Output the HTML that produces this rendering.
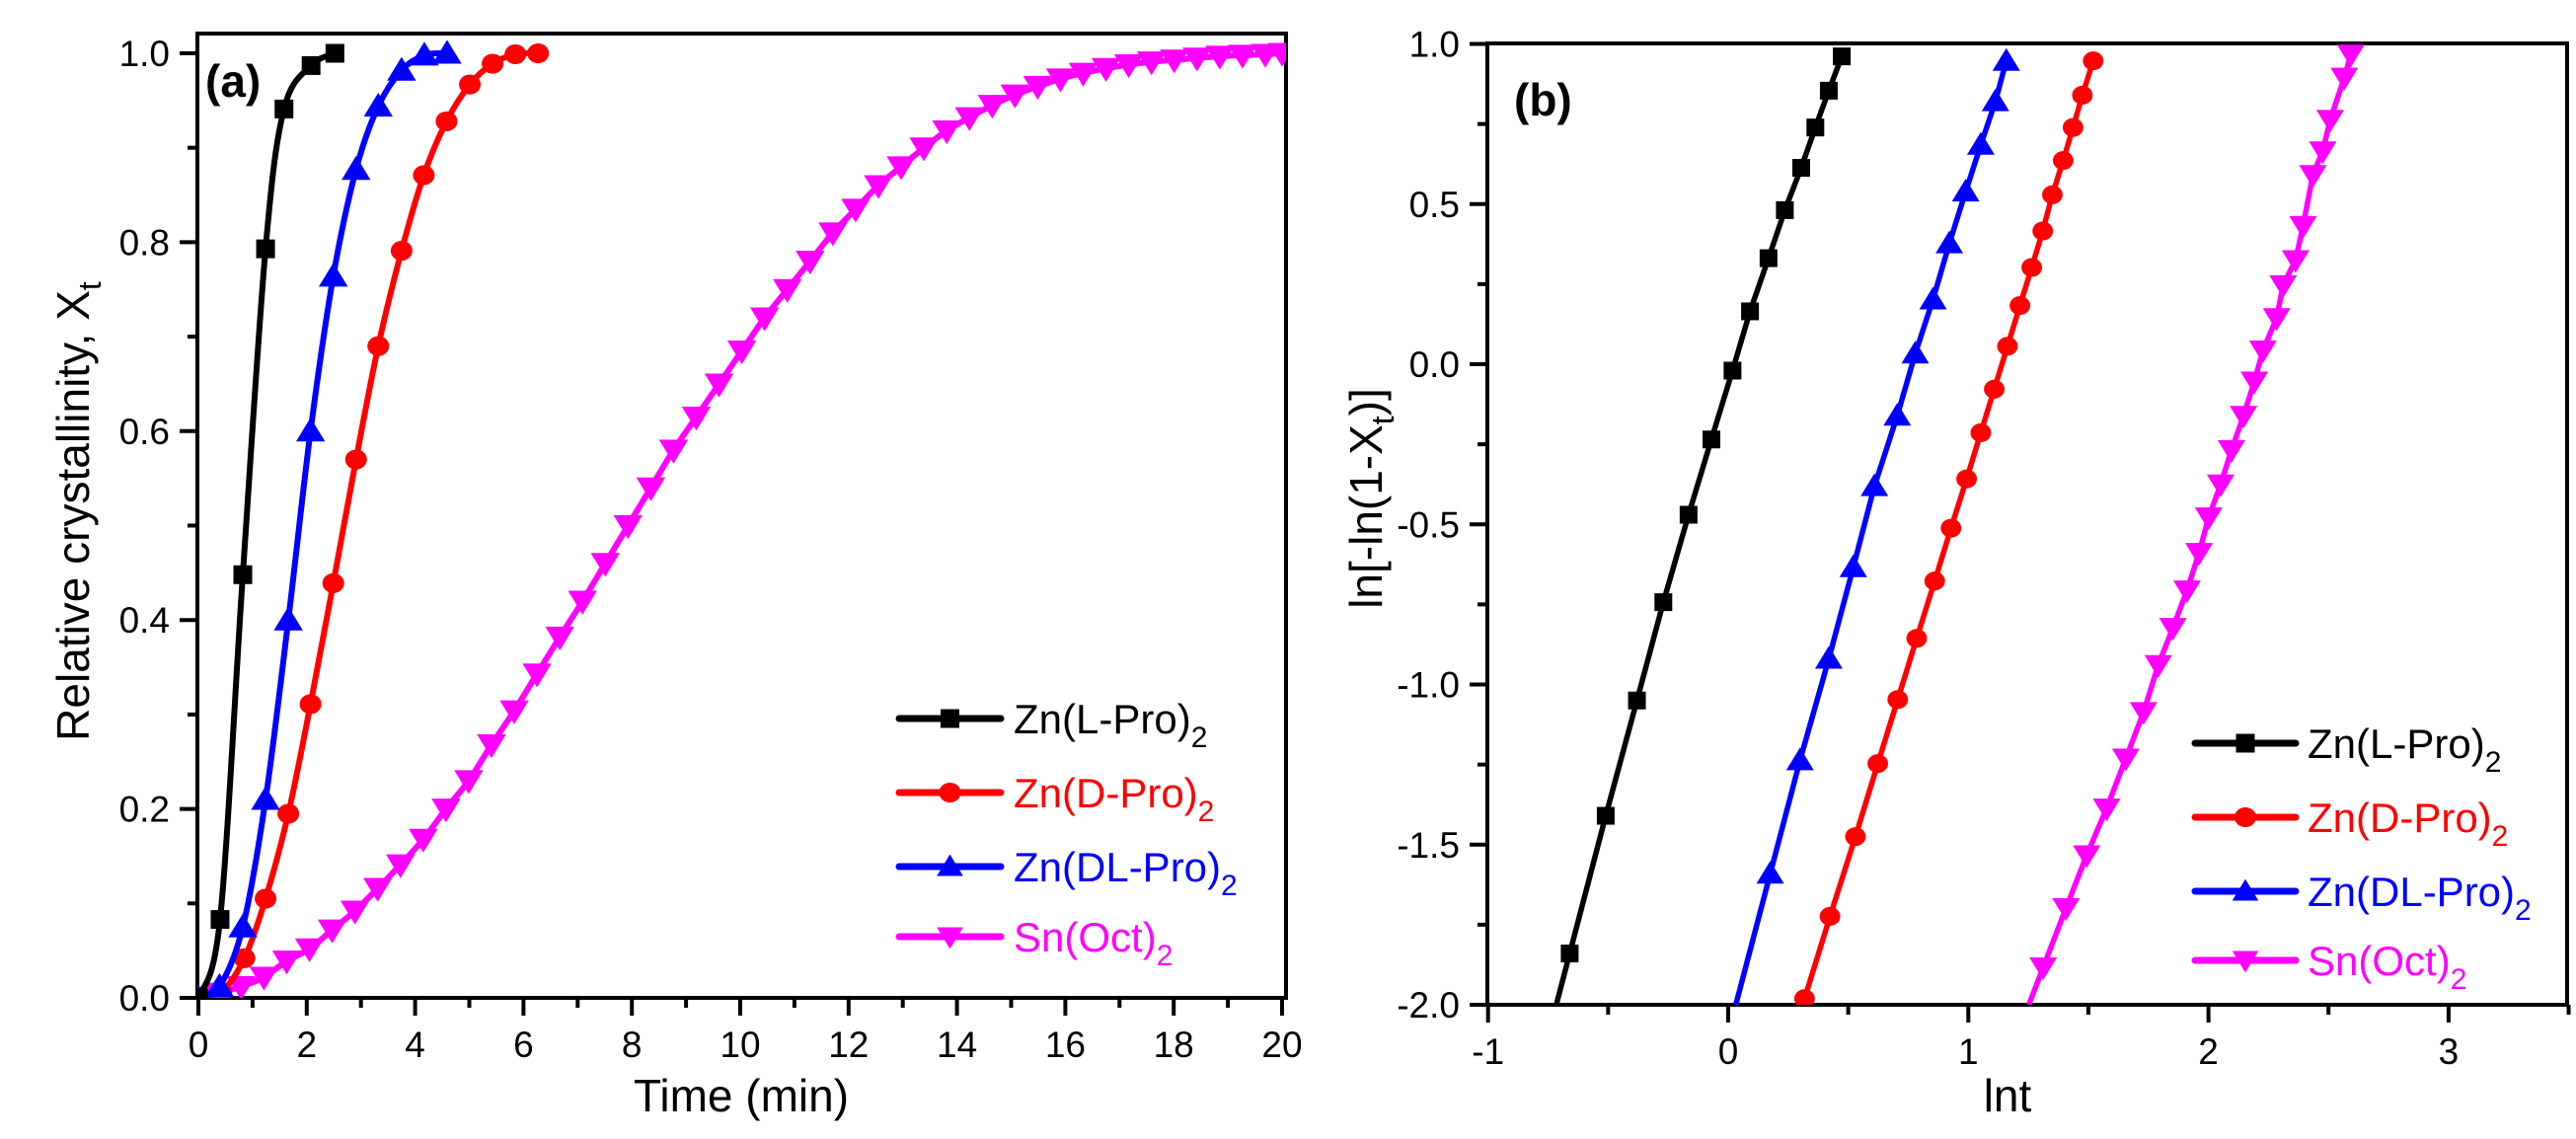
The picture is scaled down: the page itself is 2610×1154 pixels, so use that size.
<!DOCTYPE html>
<html><head><meta charset="utf-8"><style>
html,body{margin:0;padding:0;background:#fff;width:2610px;height:1154px;overflow:hidden;}
svg{display:block;font-family:"Liberation Sans",Arial,sans-serif;}
</style></head><body>
<svg id="chart" width="2610" height="1154" viewBox="0 0 2610 1154" xmlns="http://www.w3.org/2000/svg">
<defs>
<clipPath id="clipA"><rect x="200" y="34" width="1103" height="977"/></clipPath>
<clipPath id="clipB"><rect x="1507" y="44" width="1094" height="974"/></clipPath>
</defs>
<g id="panelA"></g>
<g id="panelB"></g>
<text x="208" y="98" font-size="46" font-weight="bold">(a)</text>
<text x="1534" y="117" font-size="46" font-weight="bold">(b)</text>
<text x="751" y="1126" font-size="46" text-anchor="middle">Time (min)</text>
<text x="2034" y="1126" font-size="46" text-anchor="middle">lnt</text>
<text transform="translate(90,518) rotate(-90)" font-size="46" text-anchor="middle">Relative crystallinity, X<tspan font-size="32" dy="12">t</tspan></text>
<text transform="translate(1400,505) rotate(-90)" font-size="46" text-anchor="middle">ln[-ln(1-X<tspan font-size="32" dy="12">t</tspan><tspan dy="-12">)]</tspan></text>
</svg>
<script>
// ---------- Panel (a) data ----------
const aBlackT = [0, 0.40, 0.82, 1.24, 1.58, 2.08, 2.52];
const aBlackX = [0, 0.083, 0.448, 0.793, 0.941, 0.987, 1.0];
const aBlueT = [0, 0.39, 0.82, 1.24, 1.66, 2.07, 2.49, 2.91, 3.32, 3.75, 4.17, 4.59];
const aBlueX = [0, 0.012, 0.075, 0.21, 0.40, 0.60, 0.764, 0.877, 0.944, 0.982, 0.998, 1.0];
const aRedT = [0, 0.42, 0.85, 1.24, 1.66, 2.07, 2.49, 2.91, 3.32, 3.75, 4.16, 4.58, 5.01, 5.43, 5.85, 6.27];
const aRedX = [0, 0.006, 0.042, 0.105, 0.195, 0.311, 0.439, 0.57, 0.69, 0.791, 0.871, 0.928, 0.967, 0.989, 0.999, 1.0];
const aMagT = [0, 0.37, 0.79, 1.21, 1.63, 2.05, 2.47, 2.89, 3.31, 3.73, 4.15, 4.57, 4.99, 5.41, 5.83, 6.25, 6.67, 7.09, 7.51, 7.93, 8.35, 8.77, 9.19, 9.61, 10.03, 10.45, 10.87, 11.29, 11.71, 12.13, 12.55, 12.97, 13.39, 13.81, 14.23, 14.65, 15.07, 15.49, 15.91, 16.33, 16.75, 17.17, 17.59, 18.01, 18.43, 18.85, 19.27, 19.69, 20.0];
const aMagX = [0, 0.005, 0.012, 0.022, 0.039, 0.052, 0.072, 0.092, 0.116, 0.141, 0.168, 0.20, 0.23, 0.268, 0.304, 0.343, 0.382, 0.42, 0.46, 0.50, 0.54, 0.58, 0.615, 0.65, 0.685, 0.72, 0.75, 0.78, 0.81, 0.835, 0.86, 0.88, 0.90, 0.918, 0.932, 0.945, 0.956, 0.965, 0.973, 0.979, 0.984, 0.988, 0.991, 0.993, 0.995, 0.997, 0.998, 0.999, 1.0];
const aXTicks = [0, 2, 4, 6, 8, 10, 12, 14, 16, 18, 20];
const aXTickLabels = ["0","2","4","6","8","10","12","14","16","18","20"];
const aYTicks = [0, 0.2, 0.4, 0.6, 0.8, 1.0];
const aYTickLabels = ["0.0","0.2","0.4","0.6","0.8","1.0"];

// ---------- Panel (b) data ----------
const bBlackX = [-0.66, -0.51, -0.38, -0.27, -0.165, -0.07, 0.018, 0.091, 0.168, 0.236, 0.304, 0.363, 0.419, 0.473];
const bBlackY = [-1.84, -1.41, -1.05, -0.743, -0.47, -0.235, -0.02, 0.165, 0.331, 0.481, 0.613, 0.739, 0.854, 0.961];
const bBlueX = [0.175, 0.299, 0.419, 0.521, 0.609, 0.704, 0.779, 0.853, 0.921, 0.989, 1.052, 1.113, 1.158];
const bBlueY = [-1.591, -1.237, -0.920, -0.634, -0.381, -0.161, 0.033, 0.202, 0.377, 0.539, 0.685, 0.821, 0.947];
const bRedX = [0.318, 0.424, 0.530, 0.623, 0.706, 0.785, 0.860, 0.928, 0.993, 1.052, 1.108, 1.163, 1.215, 1.264, 1.310, 1.350, 1.395, 1.436, 1.475, 1.520];
const bRedY = [-1.981, -1.724, -1.475, -1.247, -1.047, -0.856, -0.677, -0.512, -0.358, -0.214, -0.078, 0.056, 0.183, 0.302, 0.416, 0.529, 0.636, 0.739, 0.840, 0.947];
const bMagX = [1.312, 1.407, 1.493, 1.576, 1.656, 1.730, 1.791, 1.852, 1.911, 1.961, 2.001, 2.051, 2.096, 2.146, 2.191, 2.227, 2.284, 2.311, 2.363, 2.394, 2.435, 2.476, 2.507, 2.566, 2.593];
const bMagY = [-1.883, -1.698, -1.533, -1.387, -1.231, -1.086, -0.939, -0.823, -0.706, -0.589, -0.478, -0.375, -0.268, -0.161, -0.054, 0.043, 0.144, 0.247, 0.325, 0.432, 0.591, 0.665, 0.763, 0.895, 0.967];
const bXTicks = [-1, 0, 1, 2, 3];
const bXTickLabels = ["-1","0","1","2","3"];
const bYTicks = [-2, -1.5, -1, -0.5, 0, 0.5, 1.0];
const bYTickLabels = ["-2.0","-1.5","-1.0","-0.5","0.0","0.5","1.0"];

const seriesNames = ["Zn(L-Pro)", "Zn(D-Pro)", "Zn(DL-Pro)", "Sn(Oct)"];

const NS = "http://www.w3.org/2000/svg";
function mk(tag, attrs, parent) {
  const e = document.createElementNS(NS, tag);
  for (const k in attrs) e.setAttribute(k, attrs[k]);
  if (parent) parent.appendChild(e);
  return e;
}
const colors = ["#000000", "#ff0000", "#0000ff", "#ff00ff"];
const shapes = ["square", "circle", "up", "down"];

const axA = { x: t => 201 + t * 54.9, y: v => 1011 - v * 957, x0: 200, x1: 1303, y0: 34, y1: 1011, ymin: 0 };
const axB = { x: v => 1751 + v * 243.3, y: v => 369 - v * 324.5, x0: 1507, x1: 2601, y0: 44, y1: 1018, ymin: -2 };

function marker(g, shape, cx, cy, color, s) {
  let m;
  if (shape === "square") m = mk("rect", { x: cx - s / 2, y: cy - s / 2, width: s, height: s, fill: color }, g);
  else if (shape === "circle") m = mk("ellipse", { cx: cx, cy: cy, rx: s * 0.58, ry: s * 0.53, fill: color }, g);
  else if (shape === "up") m = mk("polygon", { points: `${cx},${cy - s * 0.65} ${cx - s * 0.7},${cy + s * 0.5} ${cx + s * 0.7},${cy + s * 0.5}`, fill: color }, g);
  else m = mk("polygon", { points: `${cx},${cy + s * 0.65} ${cx - s * 0.7},${cy - s * 0.5} ${cx + s * 0.7},${cy - s * 0.5}`, fill: color }, g);
  return m;
}

function smoothPath(pts) {
  let d = `M${pts[0][0]},${pts[0][1]}`;
  for (let i = 0; i < pts.length - 1; i++) {
    const p0 = pts[Math.max(0, i - 1)], p1 = pts[i], p2 = pts[i + 1], p3 = pts[Math.min(pts.length - 1, i + 2)];
    const c1x = p1[0] + (p2[0] - p0[0]) / 6, c1y = p1[1] + (p2[1] - p0[1]) / 6;
    const c2x = p2[0] - (p3[0] - p1[0]) / 6, c2y = p2[1] - (p3[1] - p1[1]) / 6;
    d += ` C${c1x},${c1y} ${c2x},${c2y} ${p2[0]},${p2[1]}`;
  }
  return d;
}

function drawAxes(g, ax, xt, xtl, yt, ytl, xMinor, yMinor, prefix) {
  const fr = mk("rect", { x: ax.x0, y: ax.y0, width: ax.x1 - ax.x0, height: ax.y1 - ax.y0, fill: "none", stroke: "#000", "stroke-width": 4 }, g);
  
  
  xt.forEach((v, i) => {
    const x = ax.x(v);
    const t = mk("line", { x1: x, y1: ax.y1, x2: x, y2: ax.y1 + 18, stroke: "#000", "stroke-width": 4 }, g);
    
    
    const lb = mk("text", { x: x, y: ax.y1 + 60, "font-size": 37, "text-anchor": "middle" }, g);
    lb.textContent = xtl[i];
    
    
  });
  xMinor.forEach(v => {
    const x = ax.x(v);
    const t = mk("line", { x1: x, y1: ax.y1, x2: x, y2: ax.y1 + 10, stroke: "#000", "stroke-width": 4 }, g);
    
    
  });
  yt.forEach((v, i) => {
    const y = ax.y(v);
    const t = mk("line", { x1: ax.x0 - 18, y1: y, x2: ax.x0, y2: y, stroke: "#000", "stroke-width": 4 }, g);
    
    
    const lb = mk("text", { x: ax.x0 - 28, y: y + 13, "font-size": 37, "text-anchor": "end" }, g);
    lb.textContent = ytl[i];
    
    
  });
  yMinor.forEach(v => {
    const y = ax.y(v);
    const t = mk("line", { x1: ax.x0 - 10, y1: y, x2: ax.x0, y2: y, stroke: "#000", "stroke-width": 4 }, g);
    
    
  });
}

function drawSeries(g, ax, xs, ys, idx, clip, smooth, extend, ms, lw, prefix) {
  const sg = mk("g", { "clip-path": `url(#${clip})` }, g);
  
  
  let pts = xs.map((v, i) => [ax.x(v), ax.y(ys[i])]);
  if (extend) {
    const slope = (ys[1] - ys[0]) / (xs[1] - xs[0]);
    const ex0 = xs[0] + (ax.ymin - ys[0]) / slope;
    pts = [[ax.x(ex0), ax.y(ax.ymin)]].concat(pts);
  }
  const path = mk("path", { d: smooth ? smoothPath(pts) : "M" + pts.map(p => p.join(",")).join(" L"), fill: "none", stroke: colors[idx], "stroke-width": lw, "stroke-linejoin": "round" }, sg);
  
  
  xs.forEach((v, i) => {
    const m = marker(sg, shapes[idx], ax.x(v), ax.y(ys[i]), colors[idx], ms);
    
    
  });
}

function drawLegend(g, lx0, lx1, tx, rows, prefix) {
  rows.forEach((ry, i) => {
    const lg = mk("g", {}, g);
    
    
    mk("line", { x1: lx0, y1: ry, x2: lx1, y2: ry, stroke: colors[i], "stroke-width": 7, "stroke-linecap": "round" }, lg);
    marker(lg, shapes[i], (lx0 + lx1) / 2, ry, colors[i], 19);
    const t = mk("text", { x: tx, y: ry + 15, "font-size": 42, fill: colors[i] }, lg);
    t.textContent = seriesNames[i];
    const sub = mk("tspan", { "font-size": 30, dy: 14 }, t);
    sub.textContent = "2";
  });
}

const gA = document.getElementById("panelA");
const gB = document.getElementById("panelB");
drawAxes(gA, axA, aXTicks, aXTickLabels, aYTicks, aYTickLabels, [1,3,5,7,9,11,13,15,17,19], [0.1,0.3,0.5,0.7,0.9], "a");
drawAxes(gB, axB, bXTicks, bXTickLabels, bYTicks, bYTickLabels, [-0.5,0.5,1.5,2.5,3.5], [-1.75,-1.25,-0.75,-0.25,0.25,0.75], "b");

drawSeries(gA, axA, aMagT, aMagX, 3, "clipA", true, false, 21, 6, "a");
drawSeries(gA, axA, aRedT, aRedX, 1, "clipA", true, false, 19, 6, "a");
drawSeries(gA, axA, aBlueT, aBlueX, 2, "clipA", true, false, 21, 6, "a");
drawSeries(gA, axA, aBlackT, aBlackX, 0, "clipA", true, false, 19, 6, "a");

drawSeries(gB, axB, bBlackX, bBlackY, 0, "clipB", false, true, 18, 5.5, "b");
drawSeries(gB, axB, bBlueX, bBlueY, 2, "clipB", false, true, 20, 5.5, "b");
drawSeries(gB, axB, bRedX, bRedY, 1, "clipB", false, true, 18, 5.5, "b");
drawSeries(gB, axB, bMagX, bMagY, 3, "clipB", false, true, 20, 5.5, "b");

drawLegend(gA, 911, 1014, 1027, [728, 803, 878, 949], "a");
drawLegend(gB, 2224, 2326, 2338, [753, 828, 903, 973], "b");
</script>
</body></html>
